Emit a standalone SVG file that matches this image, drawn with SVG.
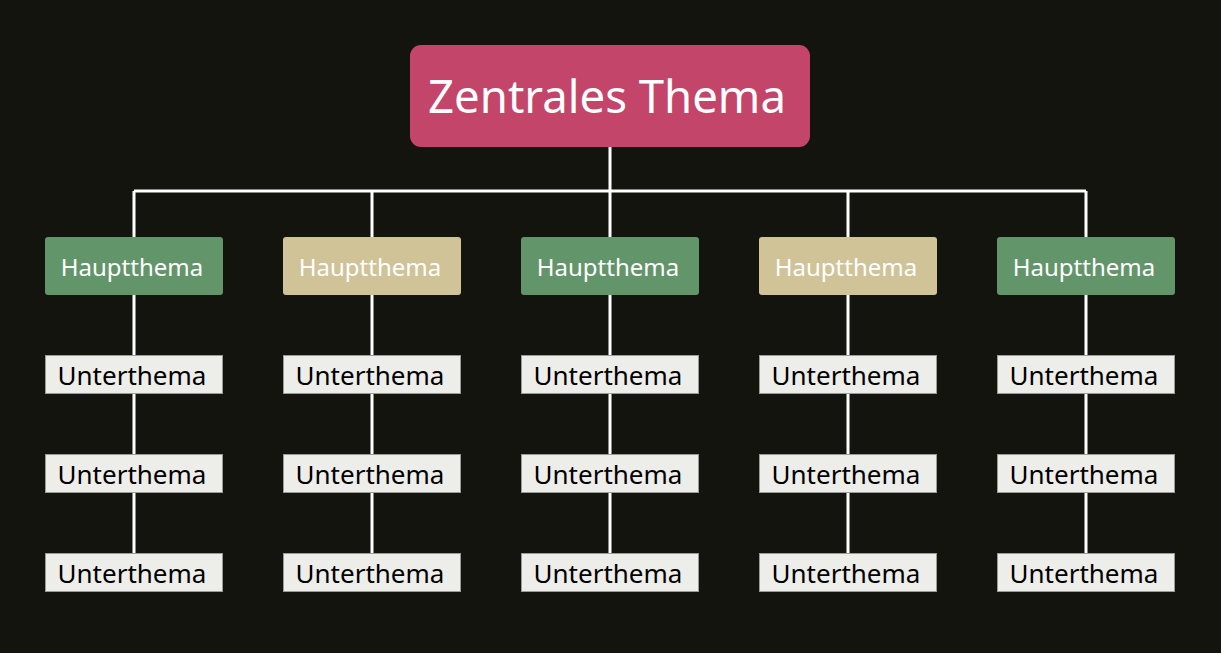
<svg xmlns="http://www.w3.org/2000/svg" width="1221" height="653" viewBox="0 0 1221 653">
<style>
.bg{fill:#14140f}
.conn{stroke:#ffffff;stroke-width:3;fill:none}
.central{fill:#c4456a}
.green{fill:#63956a}
.beige{fill:#cfc397}
.sub{fill:#ededea;stroke:#9a9a96;stroke-width:1}
.t{font-family:"Noto Sans","Open Sans","Liberation Sans",sans-serif;text-anchor:middle}
.tc{font-size:45.5px;fill:#ffffff}
.th{font-size:24px;fill:#ffffff}
.ts{font-size:26px;fill:#000000}
</style>
<rect class="bg" x="0" y="0" width="1221" height="653"/>
<g id="connectors">
<path class="conn" d="M610 147V191M134 191H1086M134 191V237M372 191V237M610 191V237M848 191V237M1086 191V237"/>
<path class="conn" d="M134 295V553M372 295V553M610 295V553M848 295V553M1086 295V553"/>
</g>
<g id="central"><rect class="central" x="410" y="45" width="400" height="102" rx="11"/><text class="t tc" x="607" y="113">Zentrales Thema</text></g>
<g id="h1"><rect class="green" x="45" y="237" width="178" height="58" rx="3"/><text class="t th" x="132" y="276">Hauptthema</text></g>
<g id="h2"><rect class="beige" x="283" y="237" width="178" height="58" rx="3"/><text class="t th" x="370" y="276">Hauptthema</text></g>
<g id="h3"><rect class="green" x="521" y="237" width="178" height="58" rx="3"/><text class="t th" x="608" y="276">Hauptthema</text></g>
<g id="h4"><rect class="beige" x="759" y="237" width="178" height="58" rx="3"/><text class="t th" x="846" y="276">Hauptthema</text></g>
<g id="h5"><rect class="green" x="997" y="237" width="178" height="58" rx="3"/><text class="t th" x="1084" y="276">Hauptthema</text></g>
<g id="s1a"><rect class="sub" x="45.5" y="355.5" width="177" height="38"/><text class="t ts" x="132" y="385">Unterthema</text></g>
<g id="s1b"><rect class="sub" x="45.5" y="454.5" width="177" height="38"/><text class="t ts" x="132" y="484">Unterthema</text></g>
<g id="s1c"><rect class="sub" x="45.5" y="553.5" width="177" height="38"/><text class="t ts" x="132" y="583">Unterthema</text></g>
<g id="s2a"><rect class="sub" x="283.5" y="355.5" width="177" height="38"/><text class="t ts" x="370" y="385">Unterthema</text></g>
<g id="s2b"><rect class="sub" x="283.5" y="454.5" width="177" height="38"/><text class="t ts" x="370" y="484">Unterthema</text></g>
<g id="s2c"><rect class="sub" x="283.5" y="553.5" width="177" height="38"/><text class="t ts" x="370" y="583">Unterthema</text></g>
<g id="s3a"><rect class="sub" x="521.5" y="355.5" width="177" height="38"/><text class="t ts" x="608" y="385">Unterthema</text></g>
<g id="s3b"><rect class="sub" x="521.5" y="454.5" width="177" height="38"/><text class="t ts" x="608" y="484">Unterthema</text></g>
<g id="s3c"><rect class="sub" x="521.5" y="553.5" width="177" height="38"/><text class="t ts" x="608" y="583">Unterthema</text></g>
<g id="s4a"><rect class="sub" x="759.5" y="355.5" width="177" height="38"/><text class="t ts" x="846" y="385">Unterthema</text></g>
<g id="s4b"><rect class="sub" x="759.5" y="454.5" width="177" height="38"/><text class="t ts" x="846" y="484">Unterthema</text></g>
<g id="s4c"><rect class="sub" x="759.5" y="553.5" width="177" height="38"/><text class="t ts" x="846" y="583">Unterthema</text></g>
<g id="s5a"><rect class="sub" x="997.5" y="355.5" width="177" height="38"/><text class="t ts" x="1084" y="385">Unterthema</text></g>
<g id="s5b"><rect class="sub" x="997.5" y="454.5" width="177" height="38"/><text class="t ts" x="1084" y="484">Unterthema</text></g>
<g id="s5c"><rect class="sub" x="997.5" y="553.5" width="177" height="38"/><text class="t ts" x="1084" y="583">Unterthema</text></g>
</svg>
